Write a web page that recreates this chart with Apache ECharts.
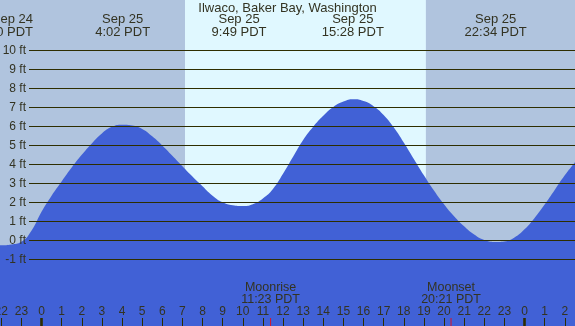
<!DOCTYPE html>
<html>
<head>
<meta charset="utf-8">
<script src="https://cdn.jsdelivr.net/npm/echarts@6/dist/echarts.min.js"></script>
<style>html,body{margin:0;padding:0;background:#b0c4de;}#c{width:575px;height:326px;}</style>
</head>
<body>
<div id="c"></div>
<script>
// ---- data (hours from Sep 25 00:00 PDT) ----
const title = 'Ilwaco, Baker Bay, Washington';
const tideHours = [-2.1, -2, -1.5, -1, -0.5, 0, 0.5, 1, 1.5, 2, 2.5, 3, 3.5, 4, 4.5, 5, 5.5, 6, 6.5, 7, 7.5, 8, 8.5, 9, 9.5, 10, 10.5, 11, 11.5, 12, 12.5, 13, 13.5, 14, 14.5, 15, 15.5, 16, 16.5, 17, 17.5, 18, 18.5, 19, 19.5, 20, 20.5, 21, 21.5, 22, 22.5, 23, 23.5, 24, 24.5, 25, 25.5, 26, 26.5, 26.7];
const tideFeet  = [-0.26, -0.26, -0.22, -0.08, 0.5, 1.5, 2.35, 3.1, 3.83, 4.5, 5.1, 5.62, 5.97, 6.08, 6.04, 5.86, 5.47, 4.99, 4.45, 3.9, 3.36, 2.85, 2.35, 2.0, 1.84, 1.8, 1.9, 2.2, 2.7, 3.5, 4.4, 5.28, 5.98, 6.56, 7.02, 7.3, 7.42, 7.33, 7.06, 6.6, 5.95, 5.15, 4.28, 3.42, 2.62, 1.9, 1.27, 0.74, 0.3, 0.01, -0.09, -0.06, 0.15, 0.58, 1.18, 1.88, 2.65, 3.42, 4.1, 4.35];
const extremeHours = [-2.0, 4.033, 9.817, 15.467, 22.567];
const extremeDays  = ['Sep 24', 'Sep 25', 'Sep 25', 'Sep 25', 'Sep 25'];
const extremeTimes = ['22:00 PDT', '4:02 PDT', '9:49 PDT', '15:28 PDT', '22:34 PDT'];
const sunriseHour = 7.13, sunsetHour = 19.1;
const moonHours  = [11.383, 20.35];
const moonNames  = ['Moonrise', 'Moonset'];
const moonTimes  = ['11:23 PDT', '20:21 PDT'];
const midnightHours = [0, 24];
const ftTicks = [-1, 10];
const hourRange = [-3, 27];

const FONT = 'Liberation Sans';
const TXT = '#333322';
const LINE = '#2e2e00';
const chart = echarts.init(document.getElementById('c'), null, {renderer: 'canvas'});

const xLeft = -18.875, xRight = -9.875;
const option = {
  backgroundColor: '#b0c4de',
  animation: false,
  grid: [
    {left: xLeft, right: xRight, top: -6.7, bottom: -9.3, outerBoundsMode: 'none', containLabel: false},
    {left: 29, right: 0, top: 50.3, bottom: 66.7, outerBoundsMode: 'none', containLabel: false},
    {left: xLeft, right: xRight, bottom: 0, height: 8, outerBoundsMode: 'none', containLabel: false}
  ],
  xAxis: [
    {gridIndex: 0, type: 'value', min: hourRange[0], max: hourRange[1], show: false},
    {gridIndex: 1, type: 'value', min: 0, max: 1, show: false},
    {gridIndex: 2, type: 'value', min: hourRange[0], max: hourRange[1], interval: 1, z: 6,
      axisLine: {show: false},
      splitLine: {show: false},
      axisTick: {show: true, inside: true, length: 8, lineStyle: {color: LINE, width: 1}},
      axisLabel: {show: true, inside: true, margin: 8, color: TXT, fontFamily: FONT, fontSize: 12,
        showMinLabel: true, showMaxLabel: true,
        formatter: v => String(((Math.round(v) % 24) + 24) % 24)}
    }
  ],
  yAxis: [
    {gridIndex: 0, type: 'value', min: -5, max: 13, show: false},
    {gridIndex: 1, type: 'value', min: ftTicks[0], max: ftTicks[1], interval: 1, z: 6,
      axisLine: {show: false}, axisTick: {show: false},
      splitLine: {show: true, lineStyle: {color: LINE, width: 1}},
      axisLabel: {show: true, margin: 3, color: TXT, fontFamily: FONT, fontSize: 12, formatter: '{value} ft'}
    },
    {gridIndex: 2, type: 'value', min: 0, max: 1, show: false}
  ],
  series: [
    {type: 'line', xAxisIndex: 0, yAxisIndex: 0, data: [], z: 1, silent: true,
      markArea: {silent: true, z: 1, itemStyle: {color: '#e0f8ff', opacity: 1},
        data: [[{xAxis: sunriseHour}, {xAxis: sunsetHour}]]}},
    {type: 'line', xAxisIndex: 0, yAxisIndex: 0, z: 3, smooth: 0.5, symbol: 'none', silent: true,
      data: tideHours.map((h, i) => [h, tideFeet[i]]),
      lineStyle: {width: 0},
      areaStyle: {color: '#4161d6', opacity: 1, origin: 'start'}},
    {type: 'scatter', xAxisIndex: 2, yAxisIndex: 2, z: 7, silent: true, symbol: 'rect', symbolSize: [3, 8],
      itemStyle: {color: LINE}, data: midnightHours.map(h => [h, 0.5])},
    {type: 'scatter', xAxisIndex: 2, yAxisIndex: 2, z: 7, silent: true, symbol: 'rect', symbolSize: [1, 8],
      itemStyle: {color: '#ff0000'}, data: moonHours.map(h => [h, 0.5])}
  ]
};
chart.setOption(option);

const graphics = [];
graphics.push({type: 'text', z: 20, silent: true, x: 287.5, y: 8,
  style: {text: title, fill: TXT, font: '13px "' + FONT + '"', align: 'center', verticalAlign: 'middle'}});
function addLine(txt, cx, y, size, halfW) {
  let align = 'center', x = cx;
  if (cx + halfW < 33) { align = 'right'; x = 33; }
  graphics.push({type: 'text', z: 20, silent: true, x: x, y: y,
    style: {text: txt, fill: TXT, font: size + 'px "' + FONT + '"', align: align, verticalAlign: 'middle'}});
}
extremeHours.forEach((h, i) => {
  const cx = chart.convertToPixel({xAxisIndex: 0}, h);
  addLine(extremeDays[i], cx, 19.5, 13, 20);
  addLine(extremeTimes[i], cx, 32, 13, 28);
});
moonHours.forEach((h, i) => {
  const cx = chart.convertToPixel({xAxisIndex: 2}, h);
  addLine(moonNames[i], cx, 287.5, 12.5, 26);
  addLine(moonTimes[i], cx, 299.5, 12.5, 30);
});
chart.setOption({graphic: graphics});
</script>
</body>
</html>
